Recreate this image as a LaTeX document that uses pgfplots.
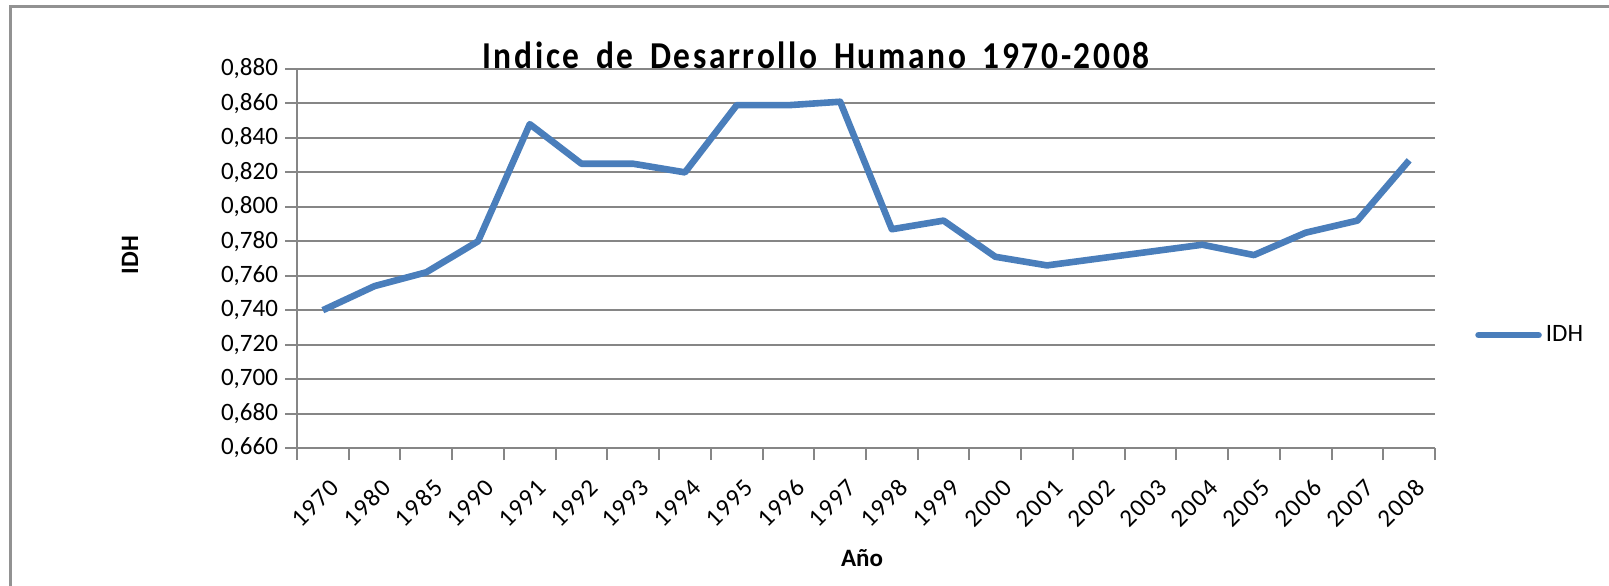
\documentclass[border=0pt]{standalone}
\usepackage{fontspec}
\setmainfont{Carlito}
\newfontfamily\titlefont[FakeStretch=0.88, LetterSpace=7]{Carlito}
\newfontfamily\yearfont[LetterSpace=6]{Carlito}
\usepackage{pgfplots}
\pgfplotsset{compat=1.18}
\definecolor{idhblue}{HTML}{4A7EBB}
\definecolor{gridgray}{HTML}{868686}
\begin{document}
\begin{tikzpicture}
\path[use as bounding box] (0,0) rectangle (804.5pt,-292.5pt);
\draw[gridgray!90, line width=1.5pt] (5pt,-293pt) -- (5pt,-3pt) -- (805pt,-3pt);
\begin{axis}[
    at={(148.5pt,-224pt)}, anchor=south west,
    scale only axis,
    width=569pt, height=189.5pt,
    xmin=-0.5, xmax=21.5,
    ymin=0.66, ymax=0.88,
    ytick={0.66,0.68,...,0.881},
    xtick={0,...,21},
    xticklabels={1970,1980,1985,1990,1991,1992,1993,1994,1995,1996,1997,1998,1999,2000,2001,2002,2003,2004,2005,2006,2007,2008},
    minor xtick={-0.5,0.5,...,21.6},
    axis lines*=left,
    axis line style={gridgray, line width=1.2pt},
    ymajorgrids=true,
    grid style={gridgray, line width=1pt},
    tick align=outside,
    major tick length=6pt,
    minor tick length=6pt,
    major x tick style={draw=none},
    minor x tick style={gridgray, line width=1pt},
    y tick style={gridgray, line width=1pt},
    tick label style={font=\fontsize{12.5}{14}\selectfont},
    xticklabel style={font=\yearfont\fontsize{12.5}{14}\selectfont, rotate=45, anchor=south east, inner sep=0pt, xshift=-4pt, yshift=-17pt},
    /pgf/number format/assume math mode=true,
    yticklabel style={/pgf/number format/.cd, fixed, fixed zerofill, precision=3, use comma},
    legend style={at={(1.035,0.298)}, anchor=west, draw=none, fill=none,
        font=\fontsize{12.5}{14}\selectfont, inner sep=0pt},
    legend image code/.code={\draw[#1, line cap=round] (0pt,0pt) -- (30pt,0pt);},
    clip=false
]
\addplot[color=idhblue, line width=3.3pt, line join=round] coordinates {
    (0,0.740) (1,0.754) (2,0.762) (3,0.780) (4,0.848) (5,0.825)
    (6,0.825) (7,0.820) (8,0.859) (9,0.859) (10,0.861) (11,0.787)
    (12,0.792) (13,0.771) (14,0.766) (15,0.770) (16,0.774) (17,0.778)
    (18,0.772) (19,0.785) (20,0.792) (21,0.827)
};
\addlegendentry{IDH}
\end{axis}
\node[font=\titlefont\bfseries\fontsize{19}{22}\selectfont, anchor=base] at (408pt,-34pt) {Indice\, de\, Desarrollo\, Humano\, 1970-2008};
\node[font=\bfseries\fontsize{12.5}{14}\selectfont, rotate=90] at (65pt,-127.5pt) {IDH};
\node[font=\bfseries\fontsize{12.5}{14}\selectfont] at (431pt,-279pt) {Año};
\end{tikzpicture}
\end{document}
